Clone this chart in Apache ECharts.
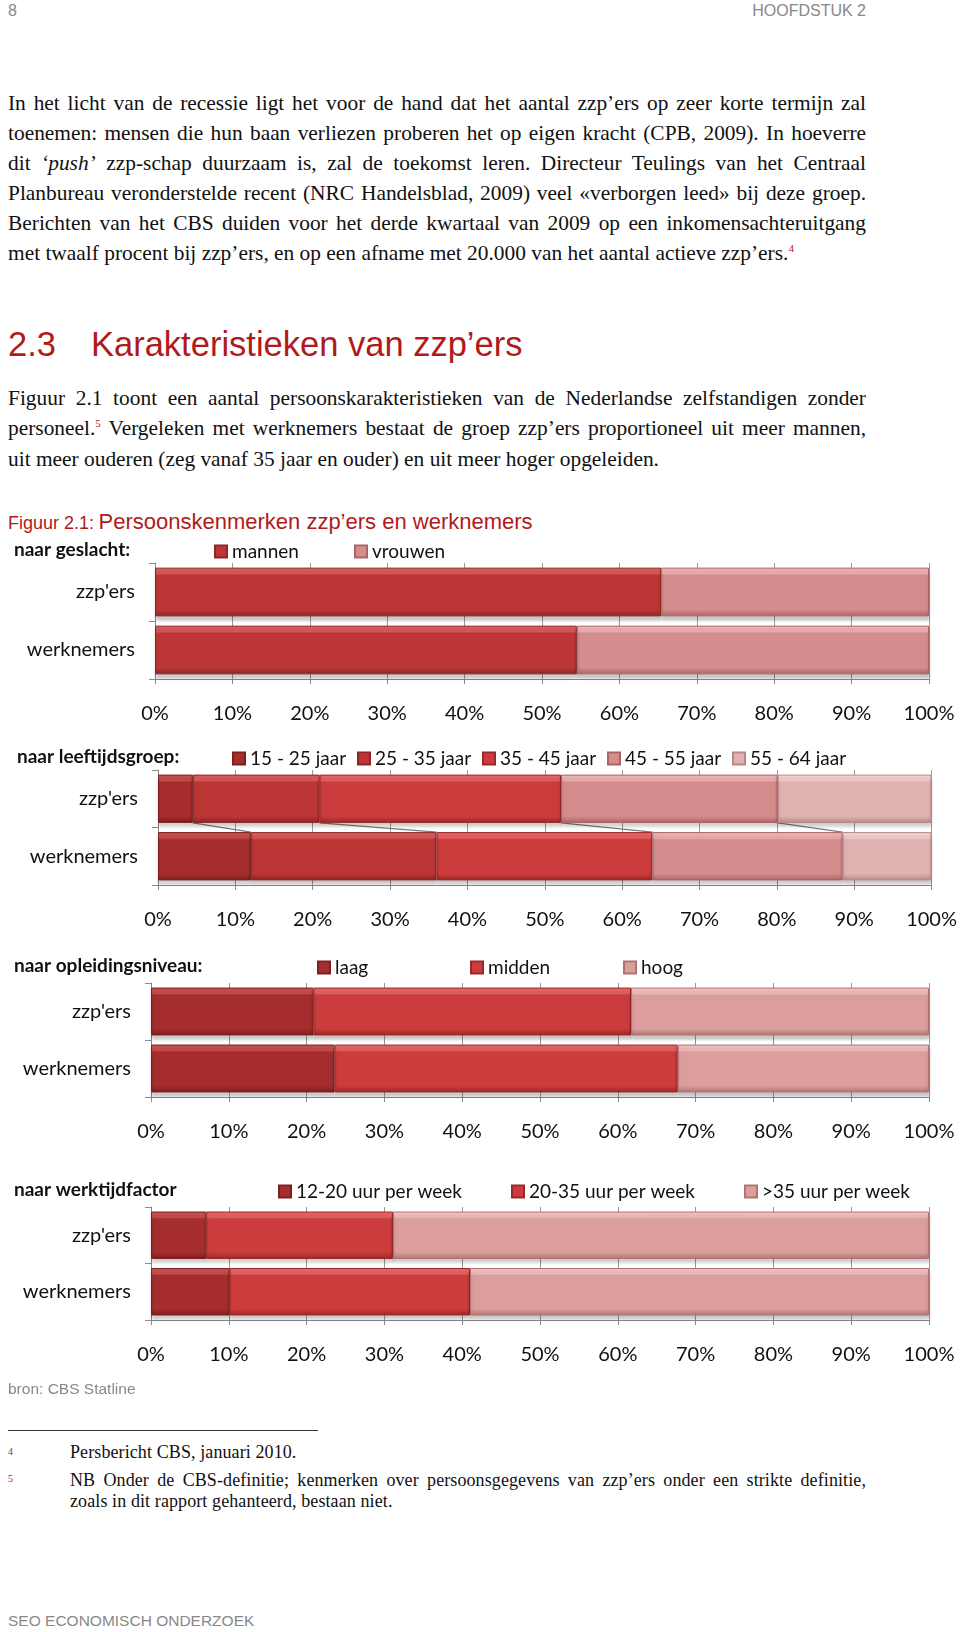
<!DOCTYPE html>
<html>
<head>
<meta charset="utf-8">
<script src="https://cdn.jsdelivr.net/npm/echarts@6/dist/echarts.min.js"></script>
<style>
  html, body { margin: 0; padding: 0; background: #fff; }
  #page { position: relative; width: 960px; height: 1632px; overflow: hidden; }
  .abs { position: absolute; white-space: nowrap; }
  .serif { font-family: "Liberation Serif", serif; font-size: 21.4px; color: #111; }
  .line { position: absolute; left: 8px; width: 858px; text-align: justify; text-align-last: justify; white-space: nowrap; }
  .line.last { text-align-last: left; }
  .sans { font-family: "Liberation Sans", Arial, sans-serif; }
  sup { font-size: 11px; color: #b01a1a; vertical-align: 8px; line-height: 0; }
  #chart { position: absolute; left: 0; top: 480px; width: 960px; height: 940px; }
  .fn { font-size: 18px; letter-spacing: 0.1px; }
</style>
</head>
<body>
<div id="page">
  <div class="abs sans" style="left:8px;top:2px;font-size:16px;color:#888;">8</div>
  <div class="abs sans" style="right:94px;top:2px;font-size:16px;color:#888;">HOOFDSTUK 2</div>

  <div class="serif">
    <div class="line" style="top:91px;">In het licht van de recessie ligt het voor de hand dat het aantal zzp’ers op zeer korte termijn zal</div>
    <div class="line" style="top:121px;">toenemen: mensen die hun baan verliezen proberen het op eigen kracht (CPB, 2009). In hoeverre</div>
    <div class="line" style="top:151px;">dit <i>‘push’</i> zzp-schap duurzaam is, zal de toekomst leren. Directeur Teulings van het Centraal</div>
    <div class="line" style="top:181px;">Planbureau veronderstelde recent (NRC Handelsblad, 2009) veel «verborgen leed» bij deze groep.</div>
    <div class="line" style="top:211px;">Berichten van het CBS duiden voor het derde kwartaal van 2009 op een inkomensachteruitgang</div>
    <div class="line last" style="top:241px;">met twaalf procent bij zzp’ers, en op een afname met 20.000 van het aantal actieve zzp’ers.<sup>4</sup></div>
  </div>

  <div class="abs sans" style="left:8px;top:325px;font-size:34.5px;color:#b01a1a;">2.3</div>
  <div class="abs sans" style="left:91px;top:325px;font-size:34.5px;color:#b01a1a;">Karakteristieken van zzp’ers</div>

  <div class="serif">
    <div class="line" style="top:386px;">Figuur 2.1 toont een aantal persoonskarakteristieken van de Nederlandse zelfstandigen zonder</div>
    <div class="line" style="top:416px;">personeel.<sup>5</sup> Vergeleken met werknemers bestaat de groep zzp’ers proportioneel uit meer mannen,</div>
    <div class="line last" style="top:447px;">uit meer ouderen (zeg vanaf 35 jaar en ouder) en uit meer hoger opgeleiden.</div>
  </div>

  <div class="abs sans" style="left:8px;top:509px;color:#b01a1a;"><span style="font-size:18px;">Figuur 2.1:</span> <span style="font-size:22px;">Persoonskenmerken zzp’ers en werknemers</span></div>

  <div id="chart"></div>

  <div class="abs sans" style="left:8px;top:1380px;font-size:15.5px;color:#888;">bron: CBS Statline</div>
  <div class="abs" style="left:8px;top:1430px;width:310px;height:0;border-top:1.5px solid #333;"></div>
  <div class="abs serif" style="left:8px;top:1446px;font-size:10px;color:#b01a1a;">4</div>
  <div class="abs serif fn" style="left:70px;top:1442px;">Persbericht CBS, januari 2010.</div>
  <div class="abs serif" style="left:8px;top:1473px;font-size:10px;color:#b01a1a;">5</div>
  <div class="serif fn">
    <div class="line" style="left:70px;width:796px;top:1470px;">NB Onder de CBS-definitie; kenmerken over persoonsgegevens van zzp’ers onder een strikte definitie,</div>
    <div class="line last" style="left:70px;width:796px;top:1491px;">zoals in dit rapport gehanteerd, bestaan niet.</div>
  </div>
  <div class="abs sans" style="left:8px;top:1612px;font-size:15.5px;color:#888;">SEO ECONOMISCH ONDERZOEK</div>
</div>

<script>
// data
const categories = ["zzp'ers", "werknemers"];

const genderNames = ["mannen", "vrouwen"];
const mannen = [65.4, 54.5];
const vrouwen = [34.6, 45.5];

const ageNames = ["15 - 25 jaar", "25 - 35 jaar", "35 - 45 jaar", "45 - 55 jaar", "55 - 64 jaar"];
const age1525 = [4.5, 12.0];
const age2535 = [16.4, 24.0];
const age3545 = [31.2, 27.9];
const age4555 = [28.0, 24.6];
const age5564 = [19.9, 11.5];

const eduNames = ["laag", "midden", "hoog"];
const eduLaag = [20.9, 23.6];
const eduMidden = [40.8, 44.1];
const eduHoog = [38.3, 32.3];

const timeNames = ["12-20 uur per week", "20-35 uur per week", ">35 uur per week"];
const time1220 = [7.1, 10.1];
const time2035 = [24.0, 30.9];
const time35 = [68.9, 59.0];

const sectionTitles = ["naar geslacht:", "naar leeftijdsgroep:", "naar opleidingsniveau:", "naar werktijdfactor"];

const FONT = "Lato";

// kleuren: [licht, midden, donker]
const C_DARK = ["#c85050", "#a62d2d", "#7e1e1e"];
const C_RED = ["#dd5a5a", "#bd3636", "#8e2424"];
const C_BRIGHT = ["#e86464", "#cd3c3c", "#9a2828"];
const C_PINK = ["#f0b4b4", "#d58c8c", "#aa6464"];
const C_LIGHT = ["#f6d2d2", "#e0b2b2", "#b88888"];
const C_ROSE = ["#f4c0c0", "#dc9d9d", "#b07272"];

function bevel(c) {
  return new echarts.graphic.LinearGradient(0, 0, 0, 1, [
    { offset: 0, color: c[0] },
    { offset: 0.12, color: c[0] },
    { offset: 0.16, color: c[1] },
    { offset: 0.86, color: c[1] },
    { offset: 1, color: c[2] },
  ]);
}

const grids = [
  { left: 155, right: 31, top: 83, height: 116 },
  { left: 158, right: 28, top: 290, height: 115 },
  { left: 151, right: 31, top: 503, height: 114 },
  { left: 151, right: 31, top: 727, height: 113 },
];
const rowY = [73, 280, 489, 713];

const groups = [
  { names: genderNames, values: [mannen, vrouwen], colors: [C_RED, C_PINK], legendLeft: 214, spacing: 140 },
  { names: ageNames, values: [age1525, age2535, age3545, age4555, age5564], colors: [C_DARK, C_RED, C_BRIGHT, C_PINK, C_LIGHT], legendLeft: 232, spacing: 125 },
  { names: eduNames, values: [eduLaag, eduMidden, eduHoog], colors: [C_DARK, C_BRIGHT, C_ROSE], legendLeft: 317, spacing: 153 },
  { names: timeNames, values: [time1220, time2035, time35], colors: [C_DARK, C_BRIGHT, C_ROSE], legendLeft: 278, spacing: 233 },
];

const xAxis = [], yAxis = [], series = [], legend = [], title = [];

groups.forEach((g, gi) => {
  xAxis.push({
    gridIndex: gi, type: "value", min: 0, max: 100, interval: 10,
    axisLabel: { formatter: "{value}%", fontFamily: FONT, fontSize: 20, color: "#111", margin: 25 },
    axisLine: { show: true, lineStyle: { color: "#8a8a8a" } },
    axisTick: { show: true, length: 5, lineStyle: { color: "#8a8a8a" } },
    splitLine: { show: true, lineStyle: { color: "#9a9a9a", width: 1 } },
  });
  yAxis.push({
    gridIndex: gi, type: "category", data: categories, inverse: true,
    axisLabel: { fontFamily: FONT, fontSize: 20, color: "#111", margin: 20 },
    axisLine: { show: true, lineStyle: { color: "#8a8a8a" } },
    axisTick: { show: true, length: 6, lineStyle: { color: "#8a8a8a" } },
  });
  title.push({
    text: sectionTitles[gi], left: gi === 1 ? 17 : 14, top: rowY[gi] - 13,
    textStyle: { fontFamily: FONT, fontSize: 19, fontWeight: "bold", color: "#111" },
    padding: 0,
  });
  // one legend per entry, evenly spaced like the original
  g.names.forEach((name, si) => {
    legend.push({
      data: [name], left: g.legendLeft + si * g.spacing, top: rowY[gi] - 11, padding: 0,
      icon: "rect", itemWidth: 12, itemHeight: 12, itemGap: 0,
      textStyle: { fontFamily: FONT, fontSize: 19, color: "#111" },
    });
  });
  g.names.forEach((name, si) => {
    const c = g.colors[si];
    series.push({
      name: name, type: "bar", stack: "s" + gi,
      xAxisIndex: gi, yAxisIndex: gi,
      barCategoryGap: "16%",
      data: g.values[si],
      itemStyle: {
        color: bevel(c), borderColor: c[2], borderWidth: 1,
        shadowColor: "rgba(0,0,0,0.22)", shadowOffsetY: 4, shadowBlur: 3,
      },
      emphasis: { disabled: true },
    });
  });
});

// verbindingslijnen tussen de segmenten van de leeftijdsbalken
const ageSeries = groups[1].values;
const seriesLines = [];
let cumZ = 0, cumW = 0;
for (let i = 0; i < ageSeries.length - 1; i++) {
  cumZ += ageSeries[i][0];
  cumW += ageSeries[i][1];
  seriesLines.push([cumZ, cumW]);
}
series.push({
  type: "custom", xAxisIndex: 1, yAxisIndex: 1, silent: true, z: 1,
  data: seriesLines,
  renderItem: function (params, api) {
    const band = api.size([0, 1])[1];
    const half = band * 0.84 / 2;
    const p1 = api.coord([api.value(0), 0]);
    const p2 = api.coord([api.value(1), 1]);
    return {
      type: "line",
      shape: { x1: p1[0], y1: p1[1] + half, x2: p2[0], y2: p2[1] - half },
      style: { stroke: "#7a7a7a", lineWidth: 1.2 },
    };
  },
});

const chart = echarts.init(document.getElementById("chart"));
chart.setOption({
  animation: false,
  title: title,
  legend: legend,
  grid: grids,
  xAxis: xAxis,
  yAxis: yAxis,
  series: series,
});
</script>
</body>
</html>
